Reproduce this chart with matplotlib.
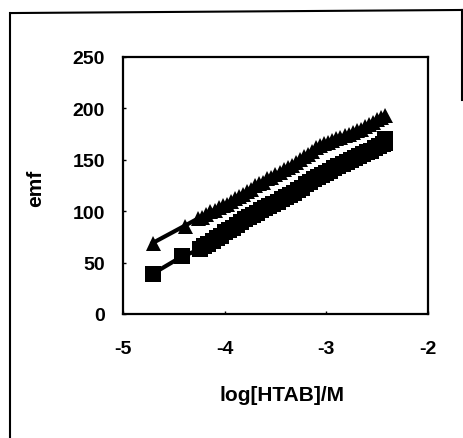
import matplotlib
matplotlib.use('Agg')
import matplotlib.pyplot as plt
from matplotlib.lines import Line2D

plt.rcParams['axes.unicode_minus'] = False

# triangles (upper series)
tri_x = [-4.71, -4.39, -4.26, -4.22, -4.18, -4.14, -4.10, -4.06, -4.02, -3.98,
         -3.94, -3.90, -3.86, -3.82, -3.78, -3.74, -3.70, -3.66, -3.62, -3.58,
         -3.54, -3.50, -3.46, -3.42, -3.38, -3.34, -3.30, -3.26, -3.22, -3.18,
         -3.14, -3.10, -3.06, -3.02, -2.98, -2.94, -2.90, -2.86, -2.82, -2.78,
         -2.74, -2.70, -2.66, -2.62, -2.58, -2.54, -2.50, -2.46, -2.42]
tri_y = [69, 86, 93, 94, 97, 100, 101, 104, 106, 107,
         110, 113, 115, 117, 120, 122, 125, 127, 128, 132,
         133, 136, 138, 141, 143, 145, 148, 151, 154, 156,
         159, 162, 164, 166, 167, 169, 171, 172, 174, 175,
         177, 179, 180, 183, 185, 187, 190, 192, 194]

# squares (lower series)
sq_x = [-4.71, -4.42, -4.24, -4.20, -4.16, -4.12, -4.08, -4.04, -4.00, -3.96,
        -3.92, -3.88, -3.84, -3.80, -3.76, -3.72, -3.68, -3.64, -3.60, -3.56,
        -3.52, -3.48, -3.44, -3.40, -3.36, -3.32, -3.28, -3.24, -3.20, -3.16,
        -3.12, -3.08, -3.04, -3.00, -2.96, -2.92, -2.88, -2.84, -2.80, -2.76,
        -2.72, -2.68, -2.64, -2.60, -2.56, -2.52, -2.48, -2.44, -2.42, -2.42, -2.42]
sq_y = [39, 56, 63, 66, 68, 71, 74, 76, 80, 82,
        84, 87, 89, 92, 94, 96, 98, 101, 103, 105,
        107, 109, 112, 114, 116, 118, 121, 123, 126, 128,
        131, 133, 135, 137, 139, 142, 144, 146, 148, 150,
        152, 154, 156, 158, 159, 161, 163, 165, 166, 168, 170]

fig = plt.figure(figsize=(4.63, 4.39), dpi=100)
ax = fig.add_axes([0.266, 0.2825, 0.658, 0.5855])

ax.plot(tri_x, tri_y, linestyle='-', linewidth=3, marker='^', markersize=10.8,
        markeredgewidth=0, color='black')
ax.plot(sq_x, sq_y, linestyle='-', linewidth=3, marker='s', markersize=11.5,
        markeredgewidth=0, color='black')

ax.set_xlim(-5, -2)
ax.set_ylim(0, 250)
ax.set_xticks([-5, -4, -3, -2])
ax.set_yticks([0, 50, 100, 150, 200, 250])
ax.tick_params(direction='in', length=2, width=1)
ax.tick_params(axis='y', pad=13)
ax.tick_params(axis='x', pad=19)
for lab in ax.get_xticklabels() + ax.get_yticklabels():
    lab.set_fontfamily('Liberation Sans')
    lab.set_fontweight('bold')
    lab.set_fontsize(14)
for s in ax.spines.values():
    s.set_linewidth(1.6)

fig.text(0.61, 0.10, 'log[HTAB]/M', ha='center', va='center',
         fontsize=15, fontweight='bold', family='Liberation Sans')
fig.text(0.076, 0.572, 'emf', ha='center', va='center', rotation=90,
         fontsize=15, fontweight='bold', family='Liberation Sans')

# outer frame pieces
fig.add_artist(Line2D([0.022, 0.022], [0.0, 0.968], color='black', lw=1.5))
fig.add_artist(Line2D([0.022, 0.998], [0.968, 0.975], color='black', lw=1.5))
fig.add_artist(Line2D([0.998, 0.998], [0.975, 0.77], color='black', lw=1.5))

plt.savefig('out.png', dpi=100)
